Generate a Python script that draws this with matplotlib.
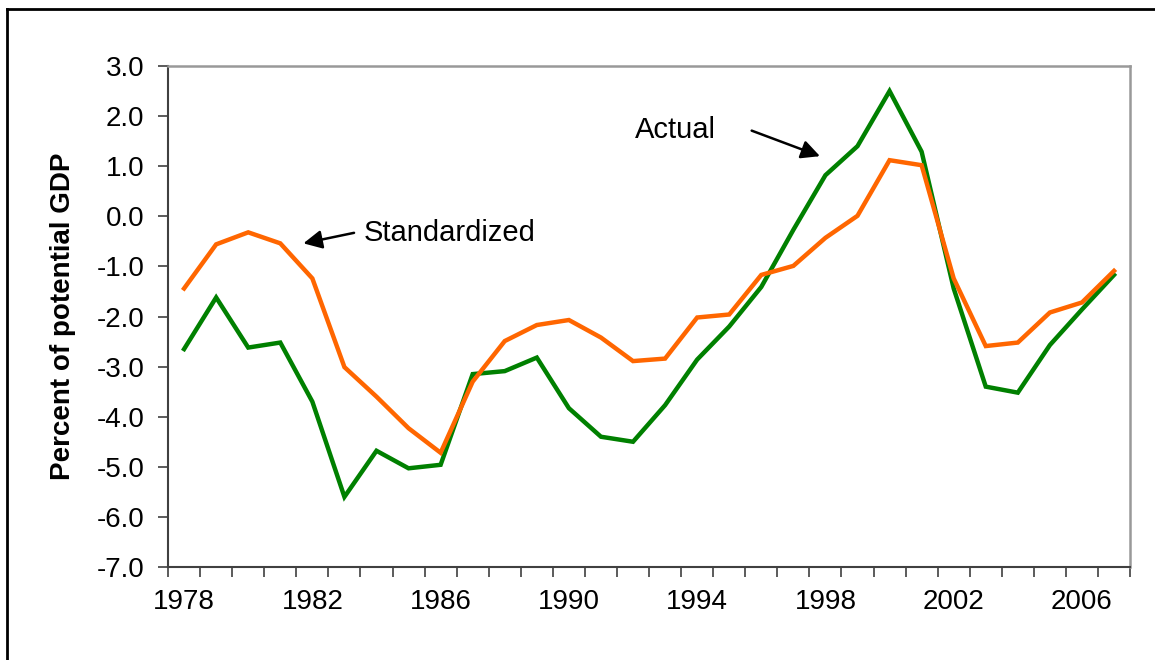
import matplotlib.pyplot as plt
import numpy as np
from matplotlib.lines import Line2D

plt.rcParams['font.family'] = ['Liberation Sans', 'DejaVu Sans']

years = list(range(1978, 2008))
actual = [-2.65, -1.62, -2.62, -2.52, -3.70, -5.60, -4.68, -5.03, -4.96, -3.15,
          -3.09, -2.82, -3.83, -4.40, -4.50, -3.77, -2.86, -2.20, -1.41, -0.27,
          0.82, 1.40, 2.50, 1.29, -1.44, -3.40, -3.52, -2.57, -1.86, -1.17]
standardized = [-1.44, -0.56, -0.32, -0.54, -1.24, -3.01, -3.60, -4.23, -4.72, -3.30,
                -2.49, -2.17, -2.07, -2.42, -2.89, -2.84, -2.02, -1.96, -1.17, -0.99,
                -0.43, 0.01, 1.12, 1.02, -1.24, -2.59, -2.52, -1.92, -1.72, -1.09]
label_years = list(range(1978, 2007, 4))
y_ticks = np.arange(-7, 3.5, 1.0)

fig = plt.figure(figsize=(11.55, 6.6), dpi=100)
ax = fig.add_axes([0.1455, 0.1409, 0.8329, 0.7591])

# outer frame: only left and top edges fall inside the picture
fig.lines.append(Line2D([7 / 1155, 7 / 1155], [0, 1 - 9 / 660], transform=fig.transFigure,
                        color='black', linewidth=2))
fig.lines.append(Line2D([7 / 1155, 1], [1 - 9 / 660, 1 - 9 / 660], transform=fig.transFigure,
                        color='black', linewidth=2))

ax.plot(years, actual, color='#008000', linewidth=3.2, solid_joinstyle='miter')
ax.plot(years, standardized, color='#FF6600', linewidth=3.2, solid_joinstyle='miter')

ax.set_xlim(1977.5, 2007.5)
ax.set_ylim(-7, 3)

# tick marks between categories, labels at category centres
ax.set_xticks(np.arange(1977.5, 2008, 1.0))
ax.set_xticklabels([])
ax.set_xticks(label_years, minor=True)
ax.set_xticklabels([str(y) for y in label_years], minor=True, fontsize=20)
ax.tick_params(axis='x', which='major', direction='out', length=7, width=1.2, color='#404040')
ax.tick_params(axis='x', which='minor', length=0, pad=16)

ax.set_yticks(y_ticks)
ax.set_yticklabels(['%.1f' % v for v in y_ticks], fontsize=20)
ax.tick_params(axis='y', direction='out', length=7, width=1.2, color='#404040', pad=10)

for side in ['top', 'right']:
    ax.spines[side].set_color('#999999')
    ax.spines[side].set_linewidth(1.8)
for side in ['left', 'bottom']:
    ax.spines[side].set_color('#404040')
    ax.spines[side].set_linewidth(1.5)

ax.set_ylabel('Percent of potential GDP', fontsize=20, fontweight='bold')
ax.yaxis.set_label_coords(-0.096, 0.5)

# annotations
ax.annotate('', xy=(1981.72, -0.54), xytext=(1983.3, -0.33),
            arrowprops=dict(arrowstyle='-|>', color='black', lw=1.8, mutation_scale=28,
                            shrinkA=0, shrinkB=0))
ax.text(1983.61, -0.33, 'Standardized', fontsize=21, va='center', ha='left')

ax.annotate('', xy=(1997.83, 1.20), xytext=(1995.7, 1.71),
            arrowprops=dict(arrowstyle='-|>', color='black', lw=1.8, mutation_scale=28,
                            shrinkA=0, shrinkB=0))
ax.text(1992.06, 1.72, 'Actual', fontsize=21, va='center', ha='left')

fig.savefig('out.png', dpi=100)
